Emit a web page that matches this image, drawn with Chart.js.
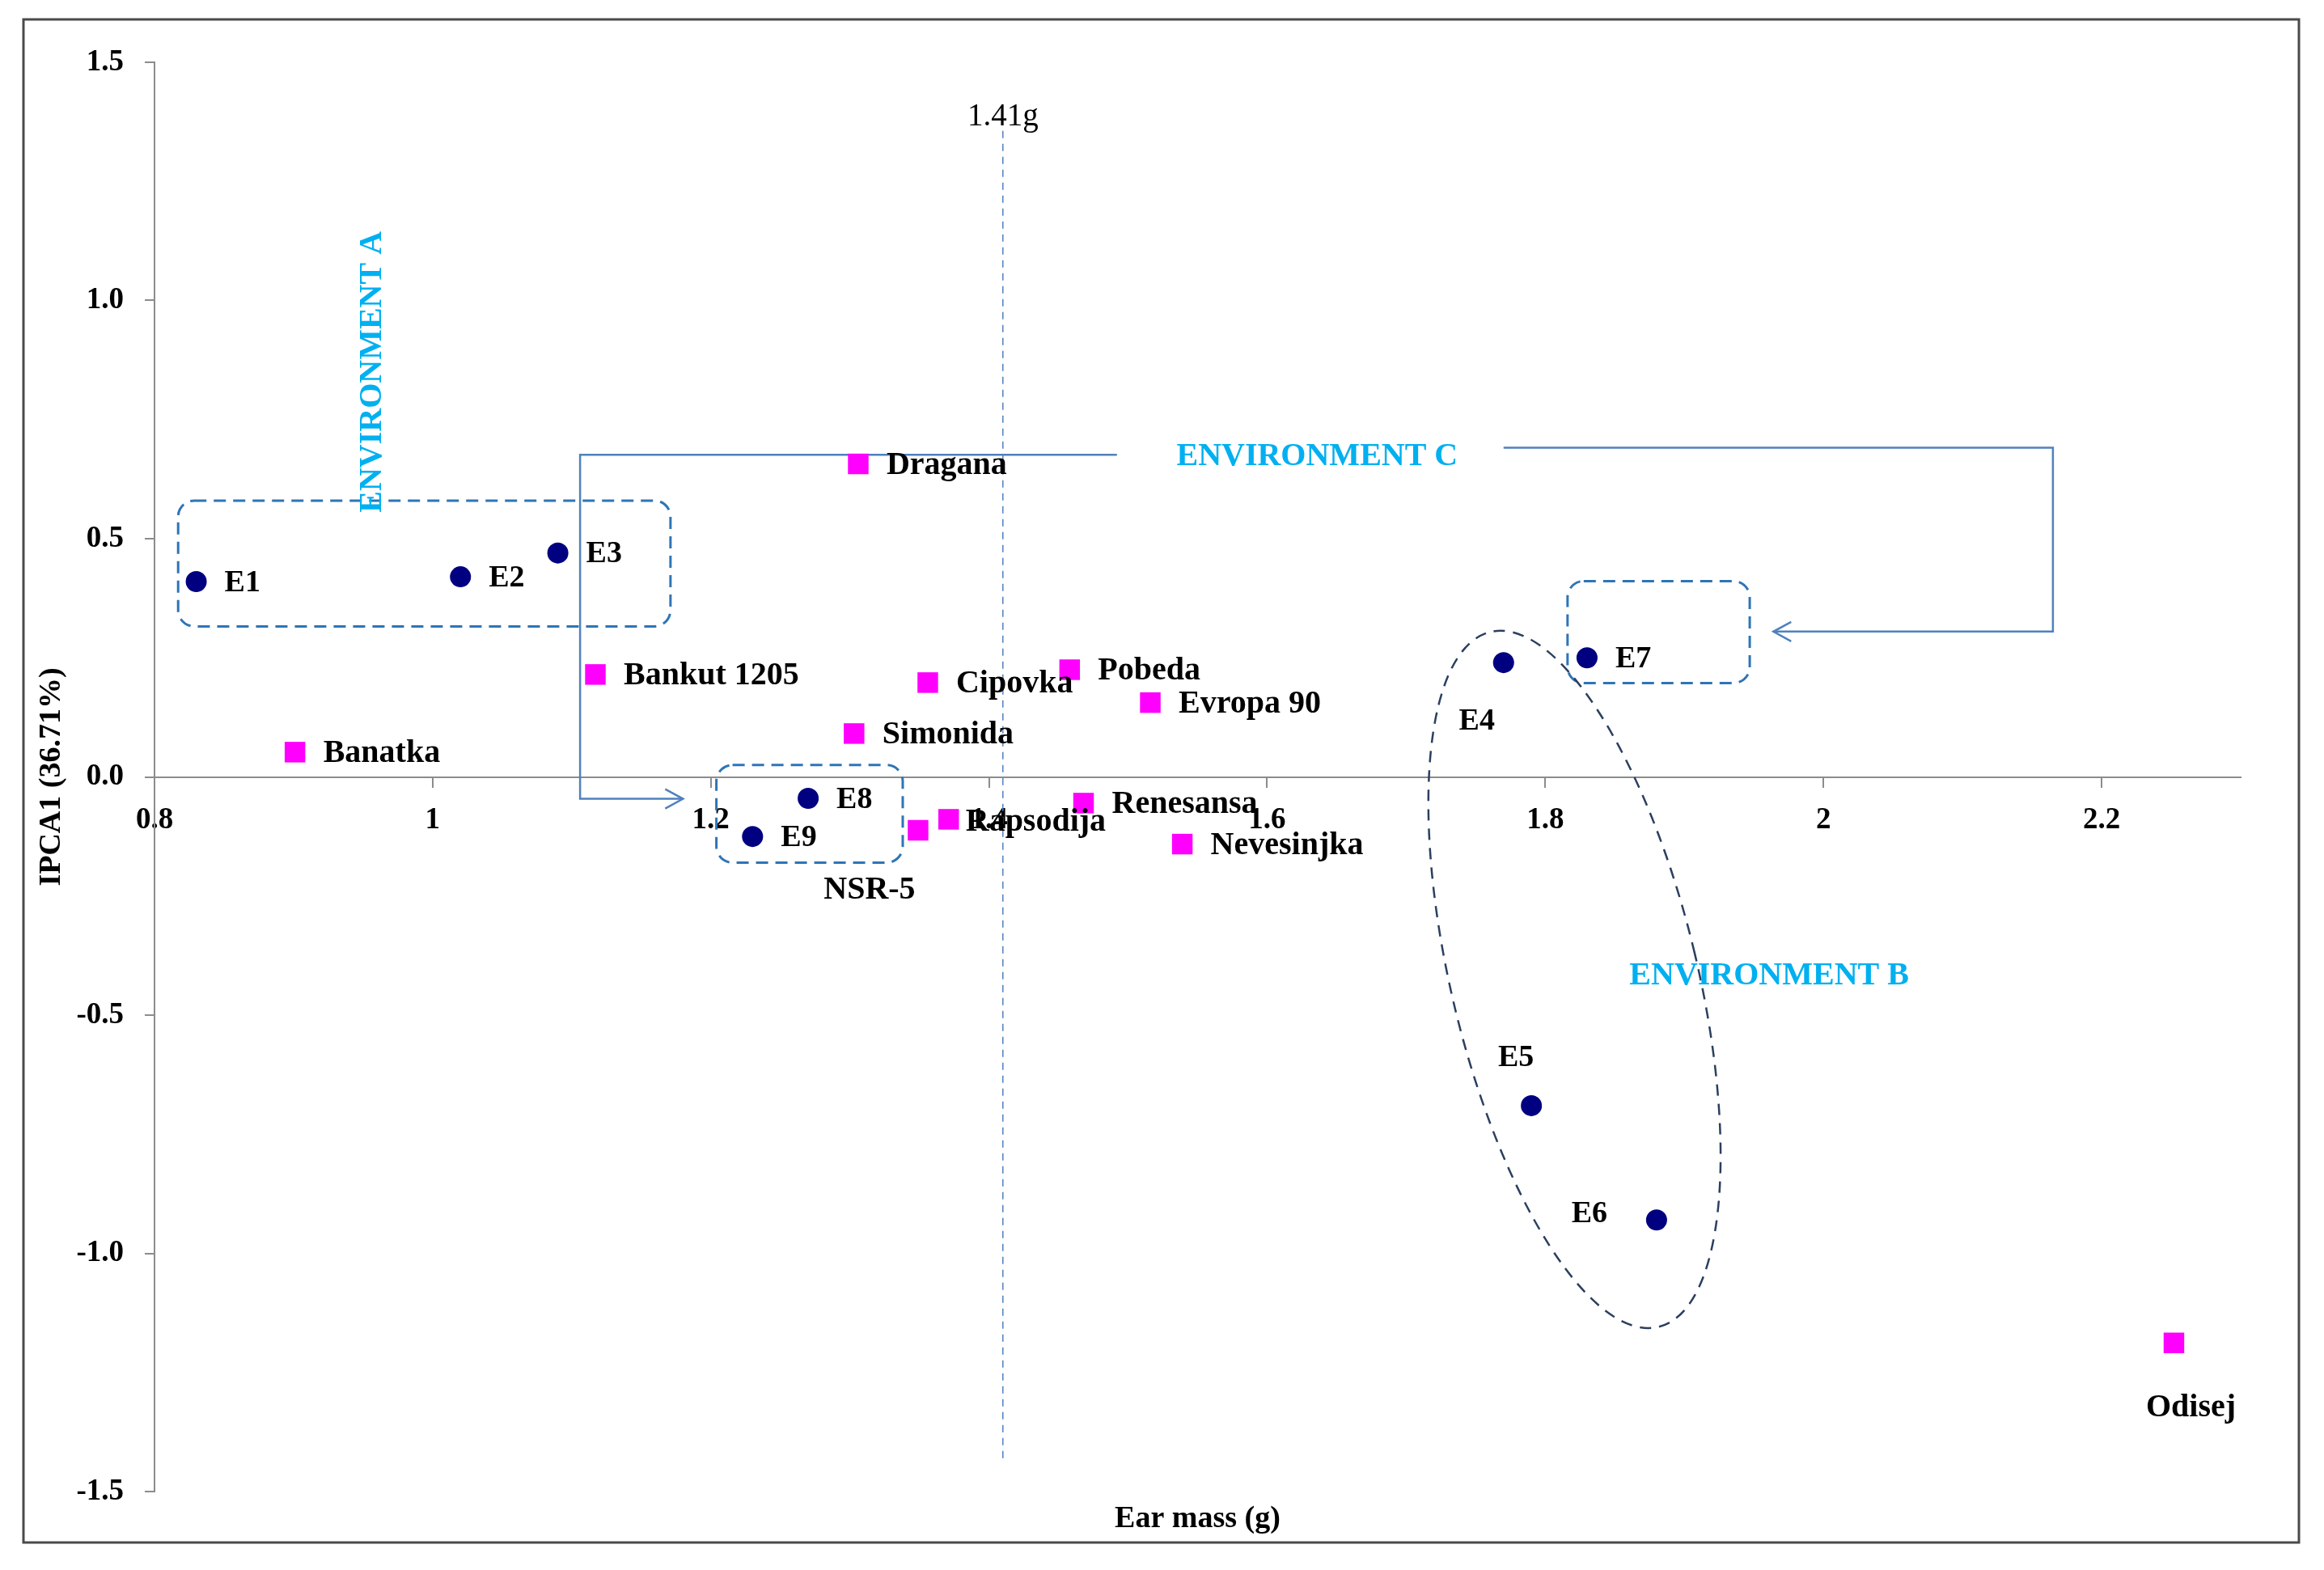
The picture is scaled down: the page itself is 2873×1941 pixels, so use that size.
<!DOCTYPE html>
<html>
<head>
<meta charset="utf-8">
<title>IPCA1 vs ear mass</title>
<script src="https://cdn.jsdelivr.net/npm/chart.js@4.4.1/dist/chart.umd.min.js"></script>
<style>
    html, body { margin: 0; padding: 0; background: #fff; }
    canvas { display: block; }
</style>
</head>
<body>
<canvas id="chart" width="2873" height="1941"></canvas>
<script>
// Environments (E1 - E9)
const envNames = ["E1", "E2", "E3", "E4", "E5", "E6", "E7", "E8", "E9"];
const envMass = [0.83, 1.02, 1.09, 1.77, 1.79, 1.88, 1.83, 1.27, 1.23];
const envIpca = [0.41, 0.42, 0.47, 0.24, -0.69, -0.93, 0.25, -0.045, -0.125];

// Genotypes
const genoNames = ["Dragana", "Bankut 1205", "Banatka", "Cipovka", "Pobeda", "Evropa 90",
    "Simonida", "Renesansa", "Rapsodija", "NSR-5", "Nevesinjka", "Odisej"];
const genoMass = [1.306, 1.117, 0.901, 1.356, 1.458, 1.516, 1.303, 1.468, 1.371, 1.349, 1.539, 2.252];
const genoIpca = [0.657, 0.215, 0.052, 0.198, 0.225, 0.156, 0.091, -0.055, -0.089, -0.112, -0.141, -1.188];

// Axes
const xTicks = [0.8, 1, 1.2, 1.4, 1.6, 1.8, 2, 2.2];
const xTickLabels = ["0.8", "1", "1.2", "1.4", "1.6", "1.8", "2", "2.2"];
const yTicks = [-1.5, -1, -0.5, 0, 0.5, 1, 1.5];
const yTickLabels = ["-1.5", "-1.0", "-0.5", "0.0", "0.5", "1.0", "1.5"];
const meanMass = 1.41;

const SERIF = "'Liberation Serif', 'Times New Roman', serif";

// Annotation shapes (positions in data units)
const annot = {
    lineColor: "#4F81BD",
    boxColor: "#2E75B6",
    ellipseColor: "#2B3F5F",
    textColor: "#00B0F0",
    boxes: [
        { x1: 0.817, y1: 0.580, x2: 1.171, y2: 0.316 },
        { x1: 1.204, y1: 0.025, x2: 1.338, y2: -0.180 },
        { x1: 1.816, y1: 0.411, x2: 1.947, y2: 0.197 }
    ],
    ellipse: { x: 1.821, y: -0.425, rx: 152, ry: 442, rot: -13.6 },
    paths: [
        [[1.492, 0.676], [1.106, 0.676], [1.106, -0.046], [1.180, -0.046]],
        [[1.770, 0.691], [2.165, 0.691], [2.165, 0.305], [1.964, 0.305]]
    ],
    texts: [
        { text: "ENVIRONMENT A", x: 0.957, y: 0.850, rot: -90 },
        { text: "ENVIRONMENT C", x: 1.636, y: 0.672, rot: 0 },
        { text: "ENVIRONMENT B", x: 1.961, y: -0.418, rot: 0 }
    ]
};

// Label placement (pixels from the marker)
const labelDefault = { dx: 35, dy: 2, align: "left" };
const labelPos = {
    "E4": { dx: -33, dy: 73, align: "center" },
    "E5": { dx: -19, dy: -59, align: "center" },
    "E6": { dx: -83, dy: -7, align: "center" },
    "NSR-5": { dx: -60, dy: 74, align: "center" },
    "Odisej": { dx: 21, dy: 80, align: "center" },
    "Rapsodija": { dx: 21, dy: 4, align: "left" }
};
const labelSizes = [38, 40];

function roundBox(ctx, x1, y1, x2, y2, r) {
    ctx.beginPath();
    ctx.moveTo(x1 + r, y1);
    ctx.arcTo(x2, y1, x2, y2, r);
    ctx.arcTo(x2, y2, x1, y2, r);
    ctx.arcTo(x1, y2, x1, y1, r);
    ctx.arcTo(x1, y1, x2, y1, r);
    ctx.closePath();
    ctx.stroke();
}

function arrowHead(ctx, tipX, tipY, dir) {
    ctx.beginPath();
    ctx.moveTo(tipX - dir * 22, tipY - 12);
    ctx.lineTo(tipX, tipY);
    ctx.lineTo(tipX - dir * 22, tipY + 12);
    ctx.stroke();
}

const annotationPlugin = {
    id: "annotations",
    beforeDatasetsDraw(chart) {
        const { ctx, scales: { x, y } } = chart;
        ctx.save();

        // mean ear mass line
        const mx = x.getPixelForValue(meanMass);
        ctx.strokeStyle = annot.lineColor;
        ctx.lineWidth = 1.5;
        ctx.setLineDash([9, 7]);
        ctx.beginPath();
        ctx.moveTo(mx, y.getPixelForValue(1.356));
        ctx.lineTo(mx, y.getPixelForValue(-1.441));
        ctx.stroke();
        ctx.setLineDash([]);
        ctx.fillStyle = "#000";
        ctx.font = "39px " + SERIF;
        ctx.textAlign = "center";
        ctx.textBaseline = "middle";
        ctx.fillText(meanMass + "g", mx, y.getPixelForValue(1.385));

        // dashed group boxes
        ctx.strokeStyle = annot.boxColor;
        ctx.lineWidth = 3;
        ctx.setLineDash([15, 9]);
        annot.boxes.forEach(b => {
            roundBox(ctx, x.getPixelForValue(b.x1), y.getPixelForValue(b.y1),
                x.getPixelForValue(b.x2), y.getPixelForValue(b.y2), 20);
        });

        // environment B ellipse
        const e = annot.ellipse;
        ctx.strokeStyle = annot.ellipseColor;
        ctx.lineWidth = 2.5;
        ctx.setLineDash([14, 10]);
        ctx.beginPath();
        ctx.ellipse(x.getPixelForValue(e.x), y.getPixelForValue(e.y), e.rx, e.ry, e.rot * Math.PI / 180, 0, Math.PI * 2);
        ctx.stroke();
        ctx.setLineDash([]);

        // environment C connectors
        ctx.strokeStyle = annot.lineColor;
        ctx.lineWidth = 2.5;
        annot.paths.forEach(p => {
            const pts = p.map(([vx, vy]) => [x.getPixelForValue(vx), y.getPixelForValue(vy)]);
            ctx.beginPath();
            pts.forEach(([px, py], i) => i ? ctx.lineTo(px, py) : ctx.moveTo(px, py));
            ctx.stroke();
            const last = pts[pts.length - 1];
            const prev = pts[pts.length - 2];
            arrowHead(ctx, last[0], last[1], last[0] > prev[0] ? 1 : -1);
        });

        // environment titles
        ctx.fillStyle = annot.textColor;
        ctx.font = "bold 40px " + SERIF;
        ctx.textAlign = "center";
        ctx.textBaseline = "middle";
        annot.texts.forEach(t => {
            ctx.save();
            ctx.translate(x.getPixelForValue(t.x), y.getPixelForValue(t.y));
            ctx.rotate(t.rot * Math.PI / 180);
            ctx.fillText(t.text, 0, 0);
            ctx.restore();
        });
        ctx.restore();
    },
    afterDatasetsDraw(chart) {
        const { ctx, chartArea } = chart;
        ctx.save();
        ctx.fillStyle = "#000";
        ctx.textBaseline = "middle";
        const names = [envNames, genoNames];
        chart.data.datasets.forEach((ds, di) => {
            ctx.font = "bold " + labelSizes[di] + "px " + SERIF;
            chart.getDatasetMeta(di).data.forEach((pt, i) => {
                const name = names[di][i];
                const pos = labelPos[name] || labelDefault;
                ctx.textAlign = pos.align;
                ctx.fillText(name, pt.x + pos.dx, pt.y + pos.dy);
            });
        });

        // x axis title sits under the plot, the axis itself is at y = 0
        ctx.font = "bold 38px " + SERIF;
        ctx.textAlign = "center";
        ctx.fillText("Ear mass (g)", (chartArea.left + chartArea.right) / 2, chartArea.bottom + 34);

        // outer frame
        ctx.strokeStyle = "#4a4a4a";
        ctx.lineWidth = 3;
        ctx.strokeRect(29, 24, 2813, 1883);
        ctx.restore();
    }
};

const tickFont = { family: SERIF, size: 37, weight: "bold" };

new Chart(document.getElementById("chart").getContext("2d"), {
    type: "scatter",
    data: {
        datasets: [
            {
                label: "Environments",
                data: envNames.map((n, i) => ({ x: envMass[i], y: envIpca[i] })),
                pointStyle: "circle",
                pointRadius: 13,
                backgroundColor: "#000080",
                borderColor: "#000080",
                borderWidth: 0
            },
            {
                label: "Genotypes",
                data: genoNames.map((n, i) => ({ x: genoMass[i], y: genoIpca[i] })),
                pointStyle: "rect",
                pointRadius: 18,
                backgroundColor: "#FF00FF",
                borderColor: "#FF00FF",
                borderWidth: 0
            }
        ]
    },
    options: {
        responsive: false,
        animation: false,
        layout: { padding: { left: 0, top: 77, right: 103, bottom: 97 } },
        plugins: {
            legend: { display: false },
            tooltip: { enabled: false }
        },
        scales: {
            x: {
                type: "linear",
                position: { y: 0 },
                min: 0.8,
                max: 2.3,
                afterBuildTicks: s => { s.ticks = xTicks.map(v => ({ value: v })); },
                ticks: {
                    callback: (v, i) => xTickLabels[i],
                    font: tickFont,
                    color: "#000",
                    padding: 20,
                    maxRotation: 0,
                    autoSkip: false
                },
                grid: { drawOnChartArea: false, tickLength: 12, color: "#8c8c8c", lineWidth: 2 },
                border: { color: "#8c8c8c", width: 2 }
            },
            y: {
                type: "linear",
                position: "left",
                min: -1.5,
                max: 1.5,
                afterBuildTicks: s => { s.ticks = yTicks.map(v => ({ value: v })); },
                afterFit: s => { s.width = 191; },
                ticks: {
                    callback: (v, i) => yTickLabels[i],
                    font: tickFont,
                    color: "#000",
                    padding: 26,
                    autoSkip: false
                },
                grid: { drawOnChartArea: false, tickLength: 12, color: "#8c8c8c", lineWidth: 2 },
                border: { color: "#8c8c8c", width: 2 },
                title: {
                    display: true,
                    text: "IPCA1 (36.71%)",
                    color: "#000",
                    font: { family: SERIF, size: 38, weight: "bold" },
                    padding: { top: 41, bottom: 0 }
                }
            }
        }
    },
    plugins: [annotationPlugin]
});
</script>
</body>
</html>
